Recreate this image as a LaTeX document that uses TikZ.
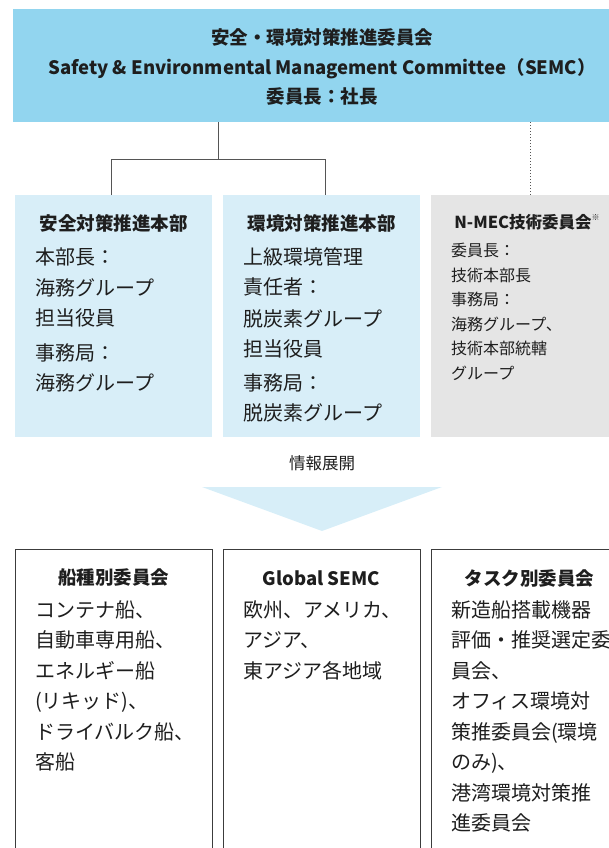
\documentclass[tikz,border=0pt]{standalone}
\usepackage{fontspec}
\setmainfont{Noto Sans CJK JP}
\usetikzlibrary{calc}
\definecolor{topblue}{HTML}{92D5EF}
\definecolor{midblue}{HTML}{D8EEF8}
\definecolor{midgray}{HTML}{E5E5E5}
\definecolor{arrowblue}{HTML}{D7EEF8}
\definecolor{txt}{HTML}{1E1E1E}
\definecolor{lne}{HTML}{555555}
\definecolor{bord}{HTML}{3C3C3C}
\tikzset{
  panel/.style={rectangle, inner sep=0, outer sep=0, anchor=north west, minimum width=197, minimum height=242},
  lowbox/.style={rectangle, draw=bord, line width=0.9pt, fill=white, inner sep=0, outer sep=0, anchor=north west, minimum width=197, minimum height=320},
  head/.style={text=txt, font=\bfseries\fontsize{18.5}{20}\selectfont, inner sep=0},
  body/.style={text=txt, font=\fontsize{20}{30.5}\selectfont, align=left, inner sep=0, anchor=north west},
  smallbody/.style={text=txt, font=\fontsize{16}{24.5}\selectfont, align=left, inner sep=0, anchor=north west},
  conn/.style={draw=lne, line width=0.9pt},
}
\begin{document}
\begin{tikzpicture}[x=1pt,y=-1pt]
\useasboundingbox (0,0) rectangle (609,848);
\clip (0,0) rectangle (609,848);

% top committee
\node[rectangle, fill=topblue, inner sep=0, anchor=north west, minimum width=620, minimum height=113] (top) at (13,9) {};
\node[text=txt, font=\bfseries\fontsize{18.5}{29.5}\selectfont, align=center, inner sep=0] (title) at (322,67)
  {安全・環境対策推進委員会\\Safety \& Environmental Management Committee（SEMC）\\委員長：社長};

% middle panels
\node[panel, fill=midblue] (b1) at (15,195) {};
\node[panel, fill=midblue] (b2) at (223,195) {};
\node[panel, fill=midgray] (b3) at (431,195) {};

\node[head] (h1) at (113.5,223) {安全対策推進本部};
\node[head] (h2) at (321.5,223) {環境対策推進本部};
\node[head, font=\bfseries\fontsize{16.5}{20}\selectfont] (h3) at (527,222) {N-MEC技術委員会\raisebox{0.45em}{\fontsize{8}{8}\selectfont ※}};

\node[body] (t1) at (35,248) {本部長：\\海務グループ\\担当役員\\[4pt]事務局：\\海務グループ};
\node[body] (t2) at (243,247) {上級環境管理\\責任者：\\[1pt]脱炭素グループ\\担当役員\\[3pt]事務局：\\脱炭素グループ};
\node[smallbody] (t3) at (451,243) {委員長：\\技術本部長\\事務局：\\海務グループ、\\技術本部統轄\\グループ};

% connectors
\coordinate (jl) at (111,159);
\coordinate (jm) at (218,159);
\coordinate (jr) at (325,159);
\coordinate (jd) at (530,159);
\draw[conn] (jm |- top.south) -- (jm);
\draw[conn] (jl |- b1.north) -- (jl) -- (jr) -- (jr |- b2.north);
\draw[draw=lne, line width=1pt, dotted] (jd |- top.south) -- (jd |- b3.north);

% information flow
\node[text=txt, font=\fontsize{16.5}{18}\selectfont, inner sep=0] (info) at (322,463) {情報展開};
\fill[arrowblue] (202,487) -- (442,487) -- (322,531) -- cycle;

% lower boxes
\node[lowbox] (c1) at (15,549) {};
\node[lowbox] (c2) at (223,549) {};
\node[lowbox] (c3) at (431,549) {};

\node[head] (k1) at (113.5,578) {船種別委員会};
\node[head] (k2) at (321.5,578) {Global SEMC};
\node[head] (k3) at (529.5,578) {タスク別委員会};

\node[body] (u1) at (35,600) {コンテナ船、\\自動車専用船、\\エネルギー船\\(リキッド)、\\ドライバルク船、\\客船};
\node[body] (u2) at (243,600) {欧州、アメリカ、\\アジア、\\東アジア各地域};
\node[body] (u3) at (451,600) {新造船搭載機器\\評価・推奨選定委\\員会、\\オフィス環境対\\策推委員会(環境\\のみ)、\\港湾環境対策推\\進委員会};
\end{tikzpicture}
\end{document}
